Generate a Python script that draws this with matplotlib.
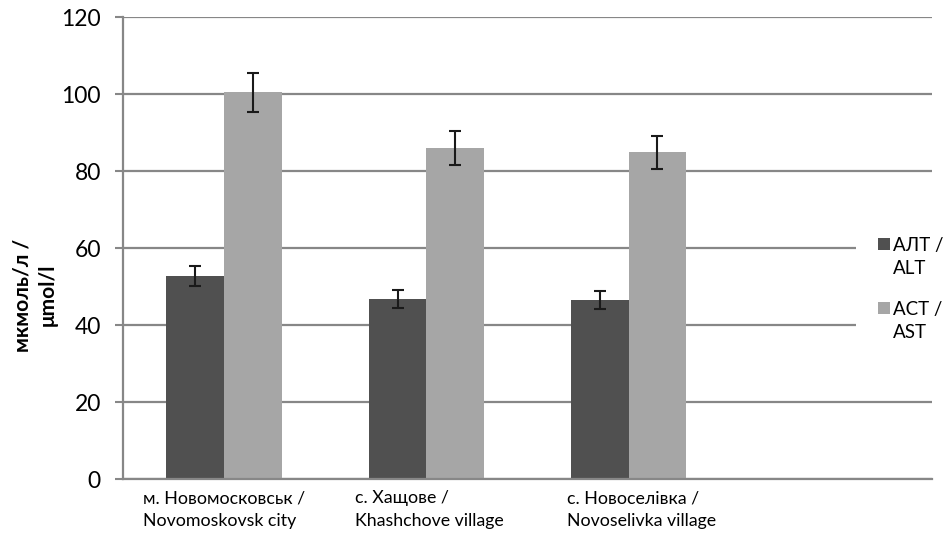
import matplotlib
matplotlib.use("Agg")
import matplotlib.pyplot as plt
from matplotlib.patches import Rectangle
from matplotlib.transforms import ScaledTranslation
import numpy as np

plt.rcParams['font.family'] = ['Lato', 'Open Sans', 'DejaVu Sans']

# Data
categories = ["м. Новомосковськ /\nNovomoskovsk city",
              "с. Хащове /\nKhashchove village",
              "с. Новоселівка /\nNovoselivka village"]
series_names = ["АЛТ /\nALT", "АСТ /\nAST"]
alt_values = [52.9, 46.8, 46.6]
alt_errors = [2.6, 2.4, 2.35]
ast_values = [100.5, 86.1, 84.9]
ast_errors = [5.0, 4.35, 4.3]
y_ticks = [0, 20, 40, 60, 80, 100, 120]
y_label = "мкмоль/л /\nμmol/l"

dark = "#505050"
light = "#a6a6a6"
grid_c = "#878787"

W, H = 947, 538
fig = plt.figure(figsize=(W / 100, H / 100), dpi=100)
ax = fig.add_axes([123 / W, 58.7 / H, 809 / W, 462 / H])

x = np.arange(len(categories))
w = 0.285
err_kw = dict(ecolor="#1a1a1a", elinewidth=1.5, capsize=4, capthick=1.5)
ax.bar(x - w / 2, alt_values, w, yerr=alt_errors, color=dark,
       error_kw=err_kw, label=series_names[0], zorder=2)
ax.bar(x + w / 2, ast_values, w, yerr=ast_errors, color=light,
       error_kw=err_kw, label=series_names[1], zorder=2)

# Four category slots, the last one left empty
ax.set_xlim(-0.5, 3.5)
ax.set_ylim(0, 120)
ax.set_yticks(y_ticks)
ax.set_xticks(x)
ax.set_xticklabels(categories, fontsize=12.8, ha="center",
                   multialignment="left", linespacing=1.5)
ax.tick_params(axis="x", length=0, pad=8)
ax.tick_params(axis="y", direction="out", length=6, width=1.5,
               color=grid_c, labelsize=16.5, pad=10)

# small horizontal nudges of the wrapped category labels (pixels)
label_shift_px = [0, 3, 13]
for lab, dx in zip(ax.get_xticklabels(), label_shift_px):
    lab.set_transform(lab.get_transform() +
                      ScaledTranslation(dx / 100, 0, fig.dpi_scale_trans))

ax.yaxis.grid(True, color=grid_c, lw=1.6)
ax.set_axisbelow(True)
for side in ("top", "right"):
    ax.spines[side].set_visible(False)
for side in ("left", "bottom"):
    ax.spines[side].set_color(grid_c)
    ax.spines[side].set_linewidth(1.6)

fig.text(35 / W, 1 - 295 / H, y_label, rotation=90, ha="center",
         va="center", fontsize=15, fontweight="bold", linespacing=1.3)

# Legend panel on the right, over the grid
fig.patches.append(Rectangle((856 / W, 1 - 350 / H), 91 / W, 122 / H,
                             transform=fig.transFigure, facecolor="white",
                             edgecolor="none", zorder=5))
for i, (name, col) in enumerate(zip(series_names, [dark, light])):
    yc = 244 + i * 64
    fig.patches.append(Rectangle((878 / W, 1 - (yc + 6) / H), 12 / W, 12 / H,
                                 transform=fig.transFigure, facecolor=col,
                                 edgecolor="none", zorder=6))
    fig.text(893 / W, 1 - (yc + 13) / H, name, ha="left", va="center",
             fontsize=13.5, linespacing=1.45, zorder=7)

fig.savefig("out.png", dpi=100)
